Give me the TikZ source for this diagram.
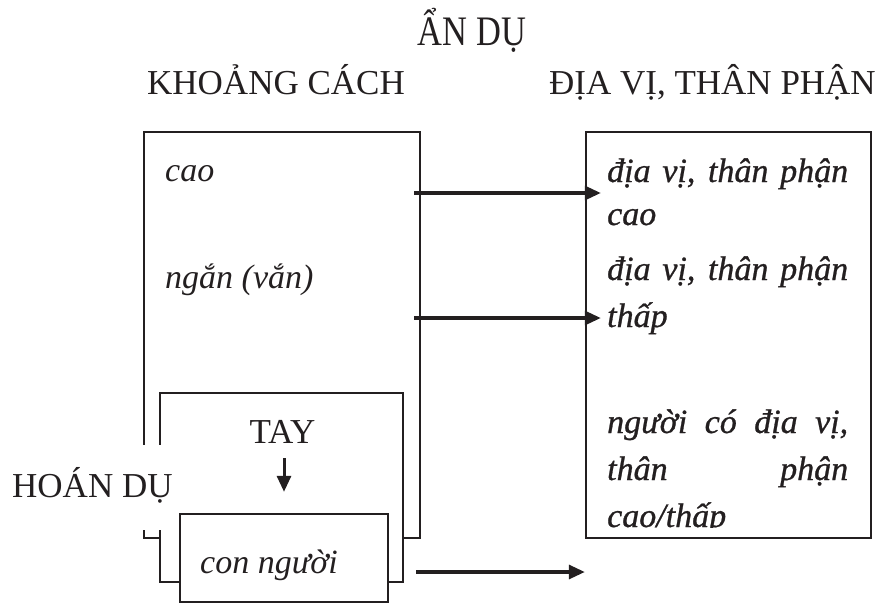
\documentclass[tikz,border=0pt]{standalone}
\usepackage{graphicx}
\usepackage{fontspec}
\setmainfont{Liberation Serif}
\newfontfamily\rightfont[FakeBold=0.8]{Liberation Serif}
\usetikzlibrary{arrows.meta}
\definecolor{ink}{HTML}{231F20}
\begin{document}
\begin{tikzpicture}[x=1pt,y=-1pt,
  box/.style={draw=ink, line width=2.4pt, rectangle, inner sep=0pt},
  title/.style={font=\fontsize{35}{40}\selectfont, text=ink, inner sep=0pt, anchor=base},
  itl/.style={font=\fontsize{34}{40}\selectfont\itshape, text=ink, inner sep=0pt, anchor=base west},
  ritl/.style={itl, font=\fontsize{34}{40}\selectfont\rightfont\itshape},
  arr/.style={draw=ink, line width=3.2pt, -{Triangle[length=16pt,width=14pt]}},
]
\useasboundingbox (0,0) rectangle (876,603);

% source and target domains
\node[box, minimum width=276pt, minimum height=406pt] (kc) at (282,335) {};
\node[box, minimum width=285pt, minimum height=406pt] (dv) at (728.5,335) {};

% headings
\node[title, font=\fontsize{42}{46}\selectfont] (an) at (472,45) {\scalebox{0.82}[1]{ẨN DỤ}};
\node[title] (tkc) at (276,94)   {KHOẢNG CÁCH};
\node[title] (tdv) at (712.5,94) {ĐỊA VỊ, THÂN PHẬN};

% left column entries
\node[itl] (cao)  at (165,181) {cao};
\node[itl] (ngan) at (165,288) {ngắn (vắn)};

% right column entries
\begin{scope}
  \clip (586,132) rectangle (871,527);
  \node[ritl] (r1) at (607,182) {\makebox[241pt][s]{địa vị, thân phận}};
  \node[ritl] (r2) at (607,225) {cao};
  \node[ritl] (r3) at (607,280) {\makebox[241pt][s]{địa vị, thân phận}};
  \node[ritl] (r4) at (607,327) {thấp};
  \node[ritl] (r5) at (607,433) {\makebox[241pt][s]{người có địa vị,}};
  \node[ritl] (r6) at (607,480) {\makebox[241pt][s]{thân phận}};
  \node[ritl] (r7) at (607,527) {cao/thấp};
\end{scope}

% mapping arrows
\coordinate (y1) at (0,193);
\coordinate (y2) at (0,318);
\coordinate (y3) at (0,572);
\draw[arr] ([xshift=-7pt]kc.east |- y1) -- ([xshift=16pt]dv.west |- y1);
\draw[arr] ([xshift=-7pt]kc.east |- y2) -- ([xshift=16pt]dv.west |- y2);

% metonymy frame
\node[box, fill=white, minimum width=243pt, minimum height=189pt] (hand) at (281.5,487.5) {};
\node[box, fill=white, minimum width=208pt, minimum height=88pt] (cn) at (284,558) {};
\node[itl] (cnt) at (200,573) {con người};
\draw[arr] ([xshift=12pt]hand.east |- y3) -- (dv.west |- y3);

\node[title, anchor=base west, fill=white, text height=52pt, text depth=33pt] (hd) at (12,497) {HOÁN DỤ};
\node[title] (tay) at (282.5,443) {TAY};
\draw[arr, line width=3pt] ([yshift=-15pt]cn.north |- tay.south) -- ([yshift=21pt]cn.north);
\end{tikzpicture}
\end{document}
